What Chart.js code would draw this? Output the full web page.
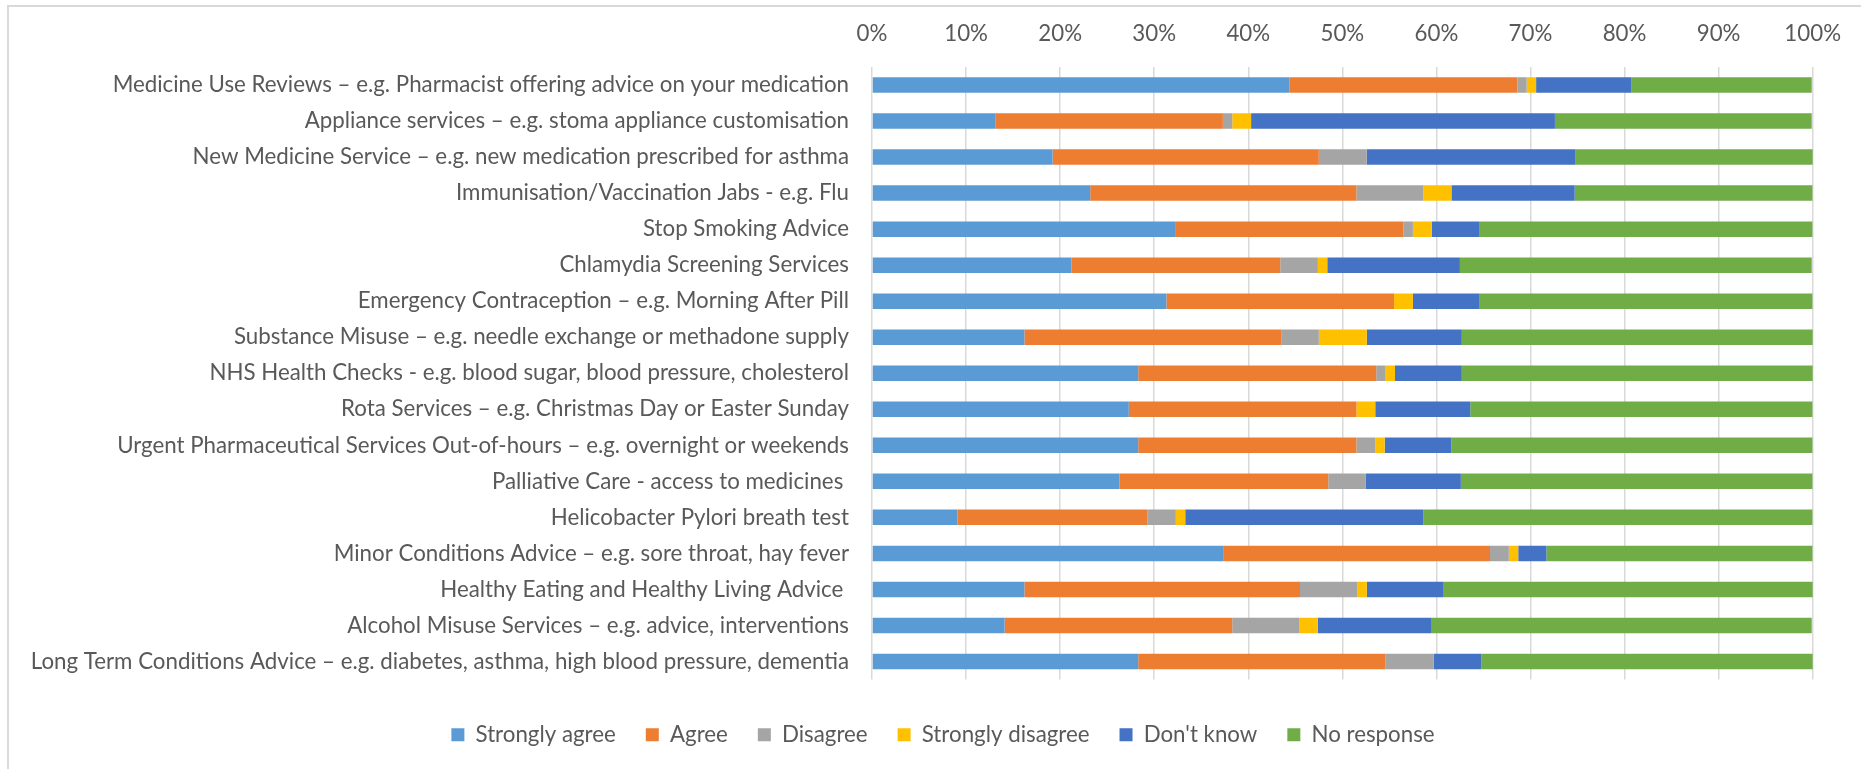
<!DOCTYPE html>
<html>
<head>
<meta charset="utf-8">
<script src="https://cdn.jsdelivr.net/npm/chart.js@4/dist/chart.umd.min.js"></script>
<style>
  html, body { margin: 0; padding: 0; background: #fff; }
  #wrap { position: relative; width: 1861px; height: 769px; overflow: hidden; }
  #frame { position: absolute; left: 7px; top: 5px; right: -5px; bottom: -5px;
           border-left: 2px solid #d9d9d9; border-top: 2px solid #d9d9d9; }
  canvas { position: absolute; left: 0; top: 0; }
</style>
</head>
<body>
<div id="wrap">
  <div id="frame"></div>
  <canvas id="servicesChart" width="1861" height="769"></canvas>
</div>
<script>
// Services (top to bottom)
const services = [
    'Medicine Use Reviews – e.g. Pharmacist offering advice on your medication',
    'Appliance services – e.g. stoma appliance customisation',
    'New Medicine Service – e.g. new medication prescribed for asthma',
    'Immunisation/Vaccination Jabs - e.g. Flu',
    'Stop Smoking Advice',
    'Chlamydia Screening Services',
    'Emergency Contraception – e.g. Morning After Pill',
    'Substance Misuse – e.g. needle exchange or methadone supply',
    'NHS Health Checks - e.g. blood sugar, blood pressure, cholesterol',
    'Rota Services – e.g. Christmas Day or Easter Sunday',
    'Urgent Pharmaceutical Services Out-of-hours – e.g. overnight or weekends',
    'Palliative Care - access to medicines ',
    'Helicobacter Pylori breath test',
    'Minor Conditions Advice – e.g. sore throat, hay fever',
    'Healthy Eating and Healthy Living Advice ',
    'Alcohol Misuse Services – e.g. advice, interventions',
    'Long Term Conditions Advice – e.g. diabetes, asthma, high blood pressure, dementia'
];

// Share of responses (%)
const stronglyAgree    = [44.4, 13.1, 19.2, 23.2, 32.3, 21.2, 31.3, 16.2, 28.3, 27.3, 28.3, 26.3, 9.1, 37.4, 16.2, 14.1, 28.3];
const agree            = [24.2, 24.2, 28.3, 28.3, 24.2, 22.2, 24.2, 27.3, 25.3, 24.2, 23.2, 22.2, 20.2, 28.3, 29.3, 24.2, 26.3];
const disagree         = [1.0, 1.0, 5.1, 7.1, 1.0, 4.0, 0, 4.0, 1.0, 0, 2.0, 4.0, 3.0, 2.0, 6.1, 7.1, 5.1];
const stronglyDisagree = [1.0, 2.0, 0, 3.0, 2.0, 1.0, 2.0, 5.1, 1.0, 2.0, 1.0, 0, 1.0, 1.0, 1.0, 2.0, 0];
const dontKnow         = [10.1, 32.3, 22.2, 13.1, 5.1, 14.1, 7.1, 10.1, 7.1, 10.1, 7.1, 10.1, 25.3, 3.0, 8.1, 12.1, 5.1];
const noResponse       = [19.2, 27.3, 25.3, 25.3, 35.4, 37.4, 35.4, 37.4, 37.4, 36.4, 38.4, 37.4, 41.4, 28.3, 39.4, 40.4, 35.4];

const xTicks = [0, 10, 20, 30, 40, 50, 60, 70, 80, 90, 100];

const textColor = '#595959';
const fontFamily = 'Lato, "Open Sans", sans-serif';
const fontSize = 22.3;

function series(label, data, color) {
    return {
        label: label,
        data: data,
        backgroundColor: color,
        borderWidth: 0,
        barPercentage: 0.43,
        categoryPercentage: 1.0
    };
}

// nudge the legend to the right, like in the original
const legendShift = {
    id: 'legendShift',
    afterLayout(chart) {
        chart.legend.left += 36;
        chart.legend.right += 36;
    }
};

const ctx = document.getElementById('servicesChart').getContext('2d');
const servicesChart = new Chart(ctx, {
    type: 'bar',
    data: {
        labels: services,
        datasets: [
            series('Strongly agree', stronglyAgree, '#5B9BD5'),
            series('Agree', agree, '#ED7D31'),
            series('Disagree', disagree, '#A5A5A5'),
            series('Strongly disagree', stronglyDisagree, '#FFC000'),
            series("Don't know", dontKnow, '#4472C4'),
            series('No response', noResponse, '#70AD47')
        ]
    },
    plugins: [legendShift],
    options: {
        indexAxis: 'y',
        responsive: false,
        animation: false,
        layout: {
            padding: { top: 0, left: 0, right: 47, bottom: 13 }
        },
        scales: {
            x: {
                position: 'top',
                stacked: true,
                min: 0,
                max: 100,
                afterBuildTicks: (scale) => {
                    scale.ticks = xTicks.map(v => ({ value: v }));
                },
                afterFit: (scale) => { scale.height = 67; },
                grid: { color: '#d9d9d9', lineWidth: 1.5, drawTicks: false },
                border: { display: false },
                ticks: {
                    padding: 20,
                    color: textColor,
                    font: { family: fontFamily, size: fontSize },
                    callback: (v) => v + '%'
                }
            },
            y: {
                stacked: true,
                afterFit: (scale) => { scale.width = 872; },
                grid: { display: false, drawTicks: false },
                border: { display: false },
                ticks: {
                    padding: 23,
                    autoSkip: false,
                    color: textColor,
                    font: { family: fontFamily, size: fontSize }
                }
            }
        },
        plugins: {
            tooltip: { enabled: false },
            legend: {
                position: 'bottom',
                title: { display: true, text: ' ', font: { size: 1 }, padding: { top: 13, bottom: 0 } },
                labels: {
                    boxWidth: 13,
                    boxHeight: 13,
                    padding: 30,
                    color: textColor,
                    font: { family: fontFamily, size: fontSize }
                }
            }
        }
    }
});
</script>
</body>
</html>
